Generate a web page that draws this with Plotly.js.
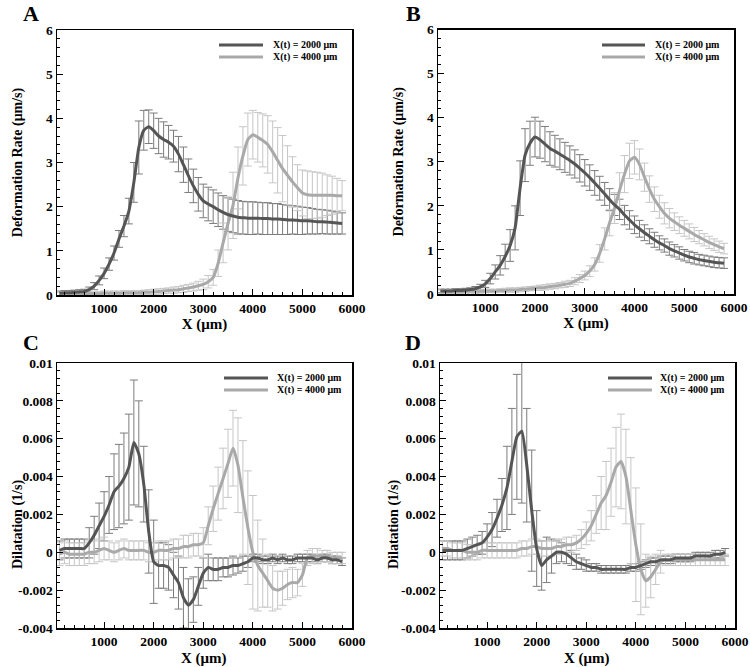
<!DOCTYPE html>
<html>
<head>
<meta charset="utf-8">
<script src="https://cdn.plot.ly/plotly-3.0.1.min.js"></script>
<style>
html,body{margin:0;padding:0;background:#fff;}
#chart{width:750px;height:667px;}
</style>
</head>
<body>
<div id="chart"></div>
<script>
// ---------------- DATA ----------------
const xPos = [100,200,300,400,500,600,700,800,900,1000,
  1100,1200,1300,1400,1500,1600,1700,1800,1900,2000,
  2100,2200,2300,2400,2500,2600,2700,2800,2900,3000,
  3100,3200,3300,3400,3500,3600,3700,3800,3900,4000,
  4100,4200,4300,4400,4500,4600,4700,4800,4900,5000,
  5100,5200,5300,5400,5500,5600,5700,5800];

const seriesNames = ['X(t) = 2000 μm', 'X(t) = 4000 μm'];
const panelLabels = ['A', 'B', 'C', 'D'];
const xTitle = 'X (μm)';
const yTitleTop = 'Deformation Rate (μm/s)';
const yTitleBottom = 'Dilatation (1/s)';

// Panel A – deformation rate
const aDark = [0.04,0.05,0.05,0.06,0.07,0.08,0.12,0.2,0.33,0.49,
  0.7,0.95,1.27,1.56,1.9,2.55,3.34,3.73,3.81,3.72,
  3.6,3.52,3.46,3.37,3.19,2.95,2.7,2.47,2.28,2.13,
  2.06,2.0,1.93,1.87,1.82,1.79,1.76,1.75,1.74,1.74,
  1.74,1.73,1.73,1.72,1.72,1.71,1.7,1.7,1.69,1.68,
  1.68,1.67,1.66,1.66,1.65,1.64,1.63,1.62];
const aDarkErr = [0.05,0.05,0.05,0.05,0.05,0.05,0.06,0.08,0.1,0.12,
  0.14,0.16,0.19,0.24,0.29,0.45,0.6,0.45,0.38,0.4,
  0.4,0.4,0.38,0.36,0.4,0.4,0.38,0.38,0.38,0.38,
  0.38,0.38,0.38,0.38,0.38,0.38,0.38,0.37,0.37,0.37,
  0.36,0.36,0.36,0.35,0.35,0.34,0.33,0.32,0.32,0.31,
  0.3,0.29,0.28,0.27,0.27,0.26,0.25,0.24];
const aLight = [0.02,0.02,0.02,0.02,0.03,0.03,0.03,0.03,0.03,0.04,
  0.04,0.04,0.04,0.05,0.05,0.05,0.05,0.06,0.06,0.07,
  0.08,0.09,0.1,0.11,0.12,0.14,0.16,0.18,0.21,0.24,
  0.3,0.4,0.72,1.18,1.62,2.03,2.65,3.15,3.52,3.63,
  3.57,3.5,3.41,3.24,3.05,2.86,2.71,2.56,2.43,2.31,
  2.27,2.26,2.26,2.26,2.26,2.26,2.25,2.25];
const aLightErr = [0.04,0.04,0.04,0.04,0.04,0.04,0.04,0.04,0.05,0.05,
  0.05,0.05,0.05,0.05,0.05,0.05,0.05,0.05,0.06,0.06,
  0.06,0.06,0.06,0.07,0.07,0.08,0.08,0.09,0.1,0.12,
  0.14,0.18,0.3,0.45,0.6,0.75,0.7,0.66,0.6,0.55,
  0.56,0.6,0.65,0.7,0.74,0.75,0.67,0.57,0.52,0.52,
  0.54,0.53,0.52,0.5,0.46,0.43,0.39,0.34];

// Panel B – deformation rate
const bDark = [0.07,0.07,0.07,0.08,0.08,0.09,0.1,0.12,0.16,0.23,
  0.35,0.5,0.65,0.85,1.1,1.5,2.4,3.15,3.42,3.56,
  3.5,3.4,3.3,3.24,3.17,3.1,3.03,2.95,2.85,2.75,
  2.64,2.52,2.4,2.27,2.14,2.02,1.92,1.79,1.68,1.57,
  1.48,1.39,1.31,1.23,1.16,1.1,1.03,0.98,0.93,0.88,
  0.84,0.81,0.78,0.76,0.74,0.72,0.71,0.7];
const bDarkErr = [0.04,0.04,0.04,0.04,0.04,0.04,0.04,0.05,0.06,0.08,
  0.12,0.16,0.22,0.28,0.36,0.5,0.62,0.6,0.5,0.45,
  0.42,0.4,0.38,0.36,0.35,0.34,0.33,0.32,0.31,0.3,
  0.29,0.28,0.27,0.26,0.25,0.24,0.23,0.22,0.21,0.2,
  0.19,0.18,0.17,0.17,0.16,0.15,0.15,0.14,0.14,0.13,
  0.13,0.13,0.12,0.12,0.12,0.12,0.12,0.12];
const bLight = [0.05,0.05,0.05,0.05,0.05,0.06,0.06,0.06,0.06,0.07,
  0.07,0.07,0.08,0.08,0.09,0.09,0.1,0.11,0.12,0.13,
  0.14,0.15,0.17,0.18,0.2,0.22,0.24,0.29,0.35,0.42,
  0.52,0.67,0.92,1.25,1.62,1.95,2.35,2.72,3.02,3.1,
  2.94,2.65,2.38,2.15,1.98,1.83,1.72,1.64,1.56,1.49,
  1.42,1.35,1.29,1.23,1.17,1.12,1.07,1.03];
const bLightErr = [0.04,0.04,0.04,0.04,0.04,0.04,0.04,0.04,0.04,0.04,
  0.04,0.04,0.04,0.05,0.05,0.05,0.05,0.05,0.05,0.05,
  0.06,0.06,0.06,0.06,0.06,0.07,0.07,0.08,0.09,0.1,
  0.12,0.15,0.2,0.25,0.3,0.35,0.4,0.42,0.4,0.38,
  0.35,0.32,0.3,0.28,0.26,0.24,0.22,0.2,0.19,0.18,
  0.17,0.16,0.15,0.14,0.14,0.13,0.13,0.12];

// Panel C – dilatation
const cDark = [0.0001,0.0002,0.0002,0.0002,0.0002,0.0002,0.0005,0.0009,0.0014,0.0019,
  0.0025,0.0032,0.0035,0.0039,0.0045,0.0058,0.0052,0.0036,0.0011,-0.0005,
  -0.0007,-0.0007,-0.0008,-0.0012,-0.0016,-0.0024,-0.0028,-0.0025,-0.0018,-0.0011,
  -0.0008,-0.0009,-0.0009,-0.0008,-0.0008,-0.0007,-0.0007,-0.0006,-0.0005,-0.0003,
  -0.0003,-0.0004,-0.0004,-0.0003,-0.0004,-0.0003,-0.0004,-0.0004,-0.0003,-0.0003,
  -0.0003,-0.0003,-0.0004,-0.0003,-0.0003,-0.0004,-0.0004,-0.0005];
const cDarkErr = [0.0005,0.0005,0.0005,0.0005,0.0005,0.0005,0.0008,0.001,0.0012,0.0013,
  0.0015,0.002,0.0022,0.0024,0.0028,0.0033,0.0028,0.002,0.0022,0.0022,
  0.0012,0.0012,0.0012,0.0012,0.0014,0.0016,0.0014,0.0012,0.001,0.0008,
  0.0007,0.0006,0.0006,0.0005,0.0005,0.0005,0.0004,0.0004,0.0003,0.0002,
  0.0002,0.0002,0.0002,0.0002,0.0002,0.0002,0.0002,0.0002,0.0002,0.0002,
  0.0002,0.0002,0.0002,0.0002,0.0002,0.0002,0.0002,0.0002];
const cLight = [-0.0001,0.0,-0.0001,-0.0001,-0.0001,-0.0001,0.0,0.0,0.0001,0.0002,
  0.0001,0.0,0.0001,0.0002,0.0001,0.0001,0.0001,0.0001,0.0,0.0,
  0.0001,0.0001,0.0001,0.0002,0.0002,0.0003,0.0003,0.0004,0.0004,0.0005,
  0.0014,0.0023,0.0031,0.0039,0.0047,0.0055,0.0046,0.0029,0.0013,0.0,
  -0.0007,-0.0011,-0.0015,-0.0019,-0.002,-0.0019,-0.0017,-0.0016,-0.0016,-0.0012,
  -0.0003,-0.0002,-0.0002,-0.0002,-0.0002,-0.0003,-0.0003,-0.0003];
const cLightErr = [0.0006,0.0006,0.0006,0.0006,0.0006,0.0006,0.0006,0.0006,0.0006,0.0006,
  0.0005,0.0005,0.0005,0.0005,0.0005,0.0005,0.0005,0.0005,0.0005,0.0005,
  0.0005,0.0005,0.0005,0.0005,0.0005,0.0006,0.0006,0.0006,0.0006,0.0008,
  0.001,0.0012,0.0014,0.0016,0.0018,0.002,0.0025,0.003,0.003,0.003,
  0.0024,0.0018,0.0014,0.0012,0.001,0.0009,0.0008,0.0008,0.0007,0.0006,
  0.0004,0.0004,0.0004,0.0003,0.0003,0.0003,0.0003,0.0003];

// Panel D – dilatation
const dDark = [0.0001,0.0001,0.0001,0.0001,0.0001,0.0002,0.0003,0.0004,0.0005,0.0008,
  0.0012,0.0018,0.0025,0.0034,0.0048,0.0061,0.0064,0.0046,0.0022,0.0002,
  -0.0007,-0.0004,-0.0002,0.0,0.0,-0.0001,-0.0003,-0.0005,-0.0006,-0.0007,
  -0.0008,-0.0008,-0.0009,-0.0009,-0.0009,-0.0009,-0.0009,-0.0009,-0.0008,-0.0008,
  -0.0007,-0.0006,-0.0005,-0.0005,-0.0004,-0.0004,-0.0004,-0.0003,-0.0003,-0.0003,
  -0.0003,-0.0002,-0.0002,-0.0002,-0.0002,-0.0001,-0.0001,0.0];
const dDarkErr = [0.0005,0.0005,0.0005,0.0005,0.0005,0.0005,0.0005,0.0005,0.0006,0.0007,
  0.0009,0.001,0.0014,0.0022,0.0028,0.0033,0.0038,0.003,0.0032,0.002,
  0.0013,0.0012,0.0009,0.0006,0.0005,0.0005,0.0004,0.0004,0.0003,0.0003,
  0.0002,0.0002,0.0002,0.0002,0.0002,0.0002,0.0002,0.0002,0.0002,0.0002,
  0.0002,0.0002,0.0002,0.0002,0.0002,0.0002,0.0002,0.0002,0.0002,0.0002,
  0.0002,0.0002,0.0002,0.0002,0.0002,0.0002,0.0002,0.0002];
const dLight = [0.0002,0.0002,0.0001,0.0001,0.0001,0.0,0.0,0.0,0.0001,0.0001,
  0.0001,0.0001,0.0001,0.0001,0.0001,0.0001,0.0002,0.0002,0.0003,0.0003,
  0.0002,0.0002,0.0002,0.0003,0.0003,0.0004,0.0004,0.0005,0.0007,0.001,
  0.0014,0.002,0.0026,0.003,0.0037,0.0045,0.0048,0.004,0.0022,0.0004,
  -0.0009,-0.0015,-0.0013,-0.0009,-0.0005,-0.0004,-0.0004,-0.0004,-0.0004,-0.0004,
  -0.0004,-0.0004,-0.0004,-0.0004,-0.0004,-0.0004,-0.0004,-0.0004];
const dLightErr = [0.0004,0.0004,0.0004,0.0004,0.0004,0.0004,0.0004,0.0004,0.0004,0.0004,
  0.0004,0.0004,0.0004,0.0004,0.0004,0.0004,0.0004,0.0004,0.0004,0.0004,
  0.0004,0.0004,0.0004,0.0004,0.0004,0.0004,0.0004,0.0004,0.0005,0.0006,
  0.0008,0.001,0.0014,0.0018,0.0018,0.0021,0.0025,0.0025,0.0028,0.003,
  0.0024,0.0014,0.0011,0.0008,0.0006,0.0003,0.0003,0.0003,0.0003,0.0003,
  0.0003,0.0003,0.0003,0.0003,0.0003,0.0003,0.0003,0.0003];

// Tick definitions
const xRange = [50, 6000];
const yRangeTop = [0, 6];
const yRangeBottom = [-0.004, 0.01];
const yTickValsBottom = [-0.004, -0.002, 0, 0.002, 0.004, 0.006, 0.008, 0.01];
const yTickTextBottom = ['-0.004', '-0.002', '0', '0.002', '0.004', '0.006', '0.008', '0.01'];

// ---------------- STYLE ----------------
const FONT = 'Liberation Serif, Times New Roman, serif';
const darkLine = '#555555';
const lightLine = '#a9a9a9';
const darkErrCol = '#7c7c7c';
const lightErrCol = '#c6c6c6';

const panels = [
  {key: '', dark: aDark, darkErr: aDarkErr, light: aLight, lightErr: aLightErr,
   xd: [57/750, 352/750], yd: [1 - 295/667, 1 - 30/667], top: true,
   leg: {x0: 219, x1: 263, tx: 271, y1: 45, y2: 57}, lab: {x: 31, y: 13}},
  {key: '2', dark: bDark, darkErr: bDarkErr, light: bLight, lightErr: bLightErr,
   xd: [438/750, 734/750], yd: [1 - 294/667, 1 - 29.5/667], top: true,
   leg: {x0: 602, x1: 645, tx: 653, y1: 45, y2: 57}, lab: {x: 413, y: 13}},
  {key: '3', dark: cDark, darkErr: cDarkErr, light: cLight, lightErr: cLightErr,
   xd: [57/750, 352/750], yd: [1 - 628/667, 1 - 363/667], top: false,
   leg: {x0: 224, x1: 268, tx: 275, y1: 378, y2: 390}, lab: {x: 31, y: 342},
   ytitle: {x: 18, y: 525}, xtitle: {x: 204, y: 658}},
  {key: '4', dark: dDark, darkErr: dDarkErr, light: dLight, lightErr: dLightErr,
   xd: [440/750, 735/750], yd: [1 - 628/667, 1 - 363/667], top: false,
   leg: {x0: 608, x1: 652, tx: 658, y1: 378, y2: 390}, lab: {x: 413, y: 342},
   ytitle: {x: 394, y: 525}, xtitle: {x: 587, y: 658}}
];

const traces = [];
const layout = {
  width: 750, height: 667,
  margin: {l: 0, r: 0, t: 0, b: 0},
  paper_bgcolor: '#ffffff', plot_bgcolor: '#ffffff',
  showlegend: false,
  font: {family: FONT, color: '#000'},
  shapes: [], annotations: []
};

const px = v => v / 750;
const py = v => 1 - v / 667;
const titleFont = {family: FONT, size: 15, color: '#000', weight: 'bold'};

panels.forEach((p, i) => {
  const xa = 'x' + p.key, ya = 'y' + p.key;
  const errBase = (y, err, col) => ({
    type: 'scatter', mode: 'lines', x: xPos, y: y, xaxis: xa, yaxis: ya,
    line: {width: 0, color: 'rgba(0,0,0,0)'}, hoverinfo: 'skip', showlegend: false,
    error_y: {type: 'data', array: err, visible: true, color: col, thickness: 1, width: 4}
  });
  const lineBase = (y, col, name) => ({
    type: 'scatter', mode: 'lines', x: xPos, y: y, xaxis: xa, yaxis: ya, name: name,
    line: {width: 3, color: col, shape: 'spline', smoothing: 0.5}, showlegend: false
  });
  traces.push(errBase(p.dark, p.darkErr, darkErrCol));
  traces.push(errBase(p.light, p.lightErr, lightErrCol));
  traces.push(lineBase(p.light, lightLine, seriesNames[1]));
  traces.push(lineBase(p.dark, darkLine, seriesNames[0]));

  const xaxis = {
    domain: p.xd, anchor: ya, range: xRange,
    tickmode: 'linear', tick0: 0, dtick: 1000,
    ticks: 'inside', ticklen: 6, tickwidth: 1, tickcolor: '#000',
    minor: {ticks: 'inside', ticklen: 3, tickwidth: 1, tickcolor: '#000', dtick: 200, tick0: 0, showgrid: false},
    showline: true, linecolor: '#000', linewidth: 1.5, mirror: true,
    showgrid: false, zeroline: false,
    tickfont: {family: FONT, size: 13.5, color: '#000', weight: 'bold'}
  };
  const yaxis = {
    domain: p.yd, anchor: xa,
    range: p.top ? yRangeTop : yRangeBottom,
    ticks: 'inside', ticklen: 6, tickwidth: 1, tickcolor: '#000',
    showline: true, linecolor: '#000', linewidth: 1.5, mirror: true,
    showgrid: false, zeroline: false,
    tickfont: {family: FONT, size: 13.5, color: '#000', weight: 'bold'}
  };
  if (p.top) {
    xaxis.title = {text: xTitle, font: titleFont, standoff: 3};
    Object.assign(yaxis, {tickmode: 'linear', tick0: 0, dtick: 1,
      minor: {ticks: 'inside', ticklen: 3, tickwidth: 1, tickcolor: '#000', dtick: 0.2, tick0: 0, showgrid: false},
      title: {text: yTitleTop, font: {family: FONT, size: 14, color: '#000', weight: 'bold'}, standoff: 20}});
  } else {
    Object.assign(yaxis, {tickmode: 'array', tickvals: yTickValsBottom, ticktext: yTickTextBottom,
      minor: {ticks: 'inside', ticklen: 3, tickwidth: 1, tickcolor: '#000', dtick: 0.0004, tick0: 0, showgrid: false}});
    layout.annotations.push({
      xref: 'paper', yref: 'paper', x: px(p.ytitle.x), y: py(p.ytitle.y),
      xanchor: 'center', yanchor: 'middle', textangle: -90, showarrow: false,
      text: yTitleBottom, font: {family: FONT, size: 14, color: '#000', weight: 'bold'}
    });
    layout.annotations.push({
      xref: 'paper', yref: 'paper', x: px(p.xtitle.x), y: py(p.xtitle.y),
      xanchor: 'center', yanchor: 'middle', showarrow: false,
      text: xTitle, font: titleFont
    });
  }
  layout['xaxis' + p.key] = xaxis;
  layout['yaxis' + p.key] = yaxis;

  // legend (drawn inside each panel)
  [[p.leg.y1, darkLine, seriesNames[0]], [p.leg.y2, lightLine, seriesNames[1]]].forEach(([yy, col, nm]) => {
    layout.shapes.push({type: 'line', xref: 'paper', yref: 'paper',
      x0: px(p.leg.x0), x1: px(p.leg.x1), y0: py(yy), y1: py(yy),
      line: {color: col, width: 3}});
    layout.annotations.push({xref: 'paper', yref: 'paper', x: px(p.leg.tx), y: py(yy),
      xanchor: 'left', yanchor: 'middle', showarrow: false, text: nm,
      font: {family: FONT, size: 10, color: '#000', weight: 'bold'}});
  });

  // panel letter
  layout.annotations.push({xref: 'paper', yref: 'paper', x: px(p.lab.x), y: py(p.lab.y),
    xanchor: 'center', yanchor: 'middle', showarrow: false, text: panelLabels[i],
    font: {family: FONT, size: 22, color: '#000', weight: 'bold'}});
});

Plotly.newPlot('chart', traces, layout, {displayModeBar: false, staticPlot: true});
</script>
</body>
</html>
